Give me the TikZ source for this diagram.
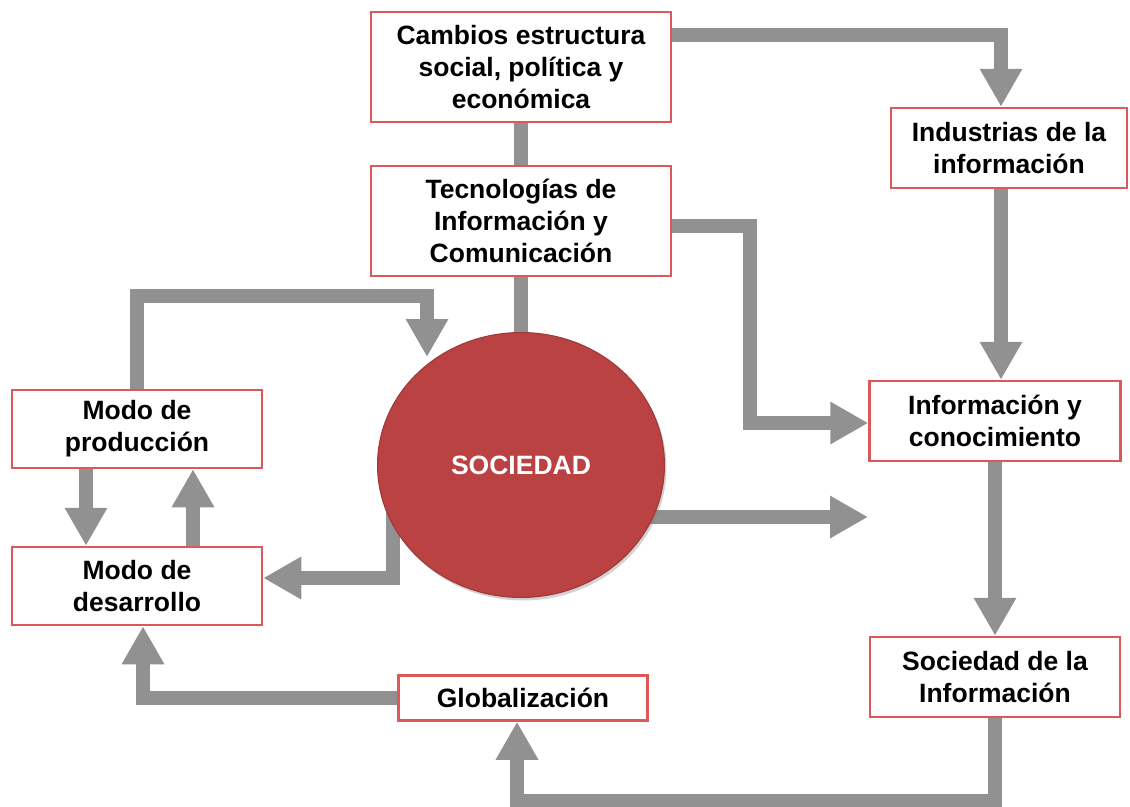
\documentclass[tikz,border=0pt]{standalone}
\usepackage{fontspec}
\setmainfont{Liberation Sans}
\usetikzlibrary{arrows.meta,shapes.geometric,backgrounds,shadows}

\definecolor{boxred}{RGB}{221,88,88}
\definecolor{flowgray}{RGB}{145,145,145}
\definecolor{socred}{RGB}{186,66,66}

\tikzset{
    box/.style={draw=boxred, line width=2.5pt, fill=white, align=center,
        inner sep=0pt, font=\fontsize{26.5}{32}\selectfont\bfseries},
    flow/.style={draw=flowgray, line width=14pt,
        -{Triangle[width=40pt,length=38pt]}},
    link/.style={draw=flowgray, line width=14pt},
}

\begin{document}
\begin{tikzpicture}[x=1pt,y=-1pt]
    \useasboundingbox (0,0) rectangle (1130,806);

    % boxes
    \node[box, minimum width=300pt, minimum height=110pt] (cambios) at (521,67)
        {Cambios estructura\\social, política y\\económica};
    \node[box, minimum width=300pt, minimum height=110pt] (tic) at (521,221)
        {Tecnologías de\\Información y\\Comunicación};
    \node[box, minimum width=236pt, minimum height=80pt] (industrias) at (1009,148)
        {Industrias de la\\información};
    \node[box, minimum width=251pt, minimum height=80pt] (infocon) at (995,421)
        {Información y\\conocimiento};
    \node[box, minimum width=250pt, minimum height=80pt] (socinfo) at (995,677)
        {Sociedad de la\\Información};
    \node[box, minimum width=249pt, minimum height=45pt] (glob) at (523,698)
        {Globalización};
    \node[box, minimum width=250pt, minimum height=78pt] (prod) at (137,429)
        {Modo de\\producción};
    \node[box, minimum width=250pt, minimum height=78pt] (desa) at (137,586)
        {Modo de\\desarrollo};

    \node[ellipse, fill=socred, draw=socred!85!black, line width=1pt,
        minimum width=287pt, minimum height=265pt, inner sep=0pt, text=white,
        font=\fontsize{26.5}{32}\selectfont\bfseries,
        drop shadow={opacity=0.35, shadow xshift=2pt, shadow yshift=-3pt}]
        (sociedad) at (521,465) {SOCIEDAD};

    \coordinate (topin) at (427,357);
    \coordinate (socout) at (868,517);

    % connectors
    \begin{scope}[on background layer]
        \draw[link] (cambios.south) -- (tic.north);
        \draw[link] (tic.south) -- (tic.south |- sociedad.north);
        \draw[flow] ([yshift=32pt]cambios.east) -| ([xshift=-8pt]industrias.north);
        \draw[flow] ([xshift=-8pt]industrias.south) -- ([xshift=-8pt]industrias.south |- infocon.north);
        \draw[flow] ([yshift=-5pt]tic.east) -- ++(78,0) |- ([yshift=-2pt]infocon.west);
        \draw[flow] (infocon.south) -- (socinfo.north);
        \draw[flow] (socinfo.south) -- ++(0,83) -| ([xshift=-6pt]glob.south);
        \draw[flow] (glob.west) -| ([xshift=6pt]desa.south);
        \draw[flow] ([xshift=-51pt]prod.south) -- ([xshift=-51pt]desa.north);
        \draw[flow] ([xshift=56pt]desa.north) -- ([xshift=56pt]prod.south);
        \draw[flow] (prod.north) -- ++(0,-93) -| (topin);
        \draw[flow] ([xshift=16pt]sociedad.west) |- ([yshift=8pt]desa.east);
        \draw[flow] (sociedad.center |- socout) -- (socout);
    \end{scope}
\end{tikzpicture}
\end{document}
